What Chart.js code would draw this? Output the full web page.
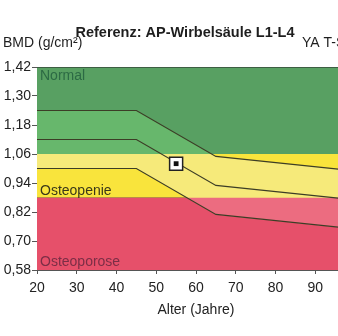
<!DOCTYPE html>
<html>
<head>
<meta charset="utf-8">
<script src="https://cdn.jsdelivr.net/npm/chart.js@4"></script>
<style>
  html, body { margin: 0; padding: 0; background: #fff; overflow: hidden; }
  canvas { display: block; }
</style>
</head>
<body>
<canvas id="chart" width="400" height="336"></canvas>
<script>
// axis ticks
var ageTicks = [20, 30, 40, 50, 60, 70, 80, 90, 100];
var bmdTicks = [0.58, 0.70, 0.82, 0.94, 1.06, 1.18, 1.30, 1.42];

// reference curves (age -> BMD)
var curveAges = [20, 45, 65, 100];
var plus1Sd = [1.24, 1.24, 1.05, 0.99];
var meanBmd = [1.12, 1.12, 0.93, 0.87];
var minus1Sd = [1.00, 1.00, 0.81, 0.75];

// WHO zones
var zoneNames = ['Normal', 'Osteopenie', 'Osteoporose'];
var zoneLimits = [1.42, 1.06, 0.88, 0.58];

// patient
var patientAge = [55];
var patientBmd = [1.02];

function pts(xs, ys) {
    return xs.map((x, i) => ({ x: x, y: ys[i] }));
}
function flat(v) {
    return [{ x: ageTicks[0], y: v }, { x: ageTicks[ageTicks.length - 1], y: v }];
}

var font = "'Liberation Sans', Arial, sans-serif";
var zoneFill = ['#58a062', '#f9e43c', '#e6506a'];
var bandFill = ['#67b76c', '#f6ea7a', '#ec6c80'];
var zoneLine = ['#34483a', '#4b5a2c', '#5c4630', 'rgba(0,0,0,0)'];
var labelColor = ['#2c6a44', '#3a3819', '#7c2e46'];
var none = 'rgba(0,0,0,0)';

var datasets = [
    { data: pts(patientAge, patientBmd), pointStyle: 'rect', pointRadius: 3.4,
      pointBackgroundColor: '#111', pointBorderWidth: 0, showLine: false, order: -1 },
    { data: pts(patientAge, patientBmd), pointStyle: 'rect', pointRadius: 9.2,
      pointBackgroundColor: '#fff', pointBorderColor: '#222', pointBorderWidth: 1.5, showLine: false, order: 0 },
    { data: pts(curveAges, plus1Sd), borderColor: '#3c3d26', borderWidth: 1.2, pointRadius: 0, fill: false, order: 1 },
    { data: pts(curveAges, meanBmd), borderColor: '#3c3d26', borderWidth: 1.2, pointRadius: 0, fill: false, order: 1 },
    { data: pts(curveAges, minus1Sd), borderColor: '#3c3d26', borderWidth: 1.2, pointRadius: 0, fill: false, order: 1 },
    // lighter +/-1 SD band, one layer per zone
    { data: pts(curveAges, minus1Sd), borderWidth: 0, pointRadius: 0, order: 2,
      fill: { target: { value: zoneLimits[2] }, above: none, below: bandFill[2] } },
    { data: pts(curveAges, plus1Sd), borderWidth: 0, pointRadius: 0, order: 3,
      fill: { target: { value: zoneLimits[1] }, above: bandFill[0], below: zoneFill[1] } },
    { data: pts(curveAges, minus1Sd), borderWidth: 0, pointRadius: 0, order: 4,
      fill: { target: { value: zoneLimits[1] }, above: none, below: bandFill[1] } }
];
zoneLimits.forEach((v, i) => {
    datasets.push({
        data: flat(v),
        borderColor: zoneLine[i],
        borderWidth: i == 0 ? 1.5 : 1,
        pointRadius: 0,
        fill: i < zoneNames.length ? '+1' : false,
        backgroundColor: zoneFill[i] || none,
        order: 5
    });
});

var textPlugin = {
    id: 'texts',
    afterDraw(chart) {
        var ctx = chart.ctx;
        var area = chart.chartArea;
        var y = chart.scales.y;
        ctx.save();
        ctx.fillStyle = '#1e1e1e';
        ctx.textBaseline = 'alphabetic';
        ctx.textAlign = 'center';
        ctx.font = 'bold 14.5px ' + font;
        ctx.fillText('Referenz: AP-Wirbelsäule L1-L4', 185, 37);
        ctx.textAlign = 'left';
        ctx.font = '14px ' + font;
        ctx.fillText('BMD (g/cm²)', 3, 47);
        ctx.fillText('YA T-Score', 302, 47);

        // zone names
        ctx.fillStyle = labelColor[0];
        ctx.fillText(zoneNames[0], area.left + 3, y.getPixelForValue(zoneLimits[0]) + 13);
        ctx.fillStyle = labelColor[1];
        ctx.fillText(zoneNames[1], area.left + 3, y.getPixelForValue(zoneLimits[2]) - 3);
        ctx.fillStyle = labelColor[2];
        ctx.fillText(zoneNames[2], area.left + 3, y.getPixelForValue(zoneLimits[3]) - 4);
        ctx.restore();
    }
};

new Chart(document.getElementById('chart'), {
    type: 'line',
    data: { datasets: datasets },
    options: {
        responsive: false,
        animation: false,
        devicePixelRatio: 1,
        layout: { padding: { top: 67, right: 45, bottom: 0, left: 0 } },
        plugins: { legend: { display: false }, tooltip: { enabled: false }, title: { display: false } },
        scales: {
            x: {
                type: 'linear',
                min: 20,
                max: 100,
                afterBuildTicks: s => { s.ticks = ageTicks.map(v => ({ value: v })); },
                afterFit: s => { s.height = 66; },
                ticks: { color: '#222', font: { family: font, size: 14 }, padding: 6, maxRotation: 0 },
                grid: { drawOnChartArea: false, drawTicks: true, tickLength: 4, color: '#555' },
                border: { display: true, color: '#555' },
                title: { display: true, text: 'Alter (Jahre)', color: '#222',
                         font: { family: font, size: 14 }, padding: { top: 2, bottom: 17 } }
            },
            y: {
                min: 0.58,
                max: 1.42,
                afterBuildTicks: s => { s.ticks = bmdTicks.map(v => ({ value: v })); },
                afterFit: s => { s.width = 37; },
                ticks: { color: '#222', font: { family: font, size: 14 }, padding: 1,
                         callback: v => v.toFixed(2).replace('.', ',') },
                grid: { drawOnChartArea: false, drawTicks: true, tickLength: 5, color: '#555' },
                border: { display: true, color: '#555' }
            }
        }
    },
    plugins: [textPlugin]
});
</script>
</body>
</html>
